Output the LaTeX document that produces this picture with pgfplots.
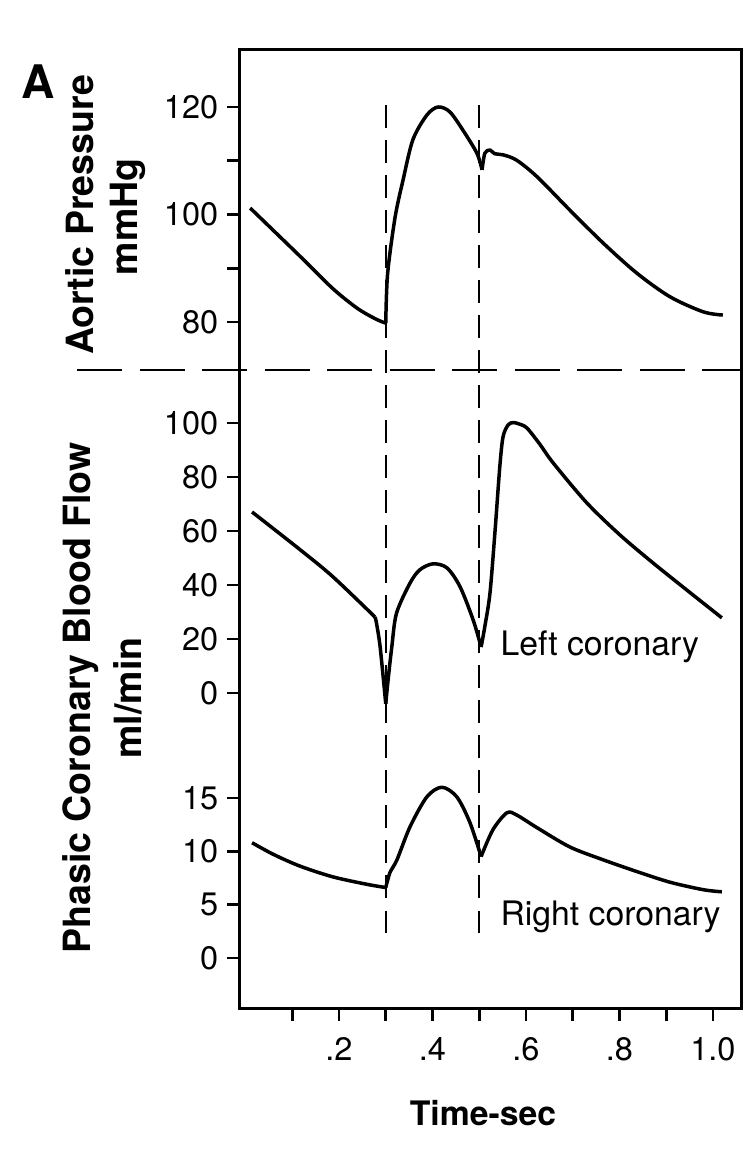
\documentclass[border=0pt]{standalone}
\usepackage{fontspec}
\setmainfont{TeX Gyre Heros}
\usepackage{pgfplots}
\pgfplotsset{compat=1.18}

% aortic pressure, mmHg
\pgfplotstableread{
x v
0.010 101.2
0.060 97.0
0.117 92.2
0.187 86.2
0.240 82.5
0.280 80.5
0.300 79.8
0.304 89.0
0.320 99.5
0.337 106.4
0.358 113.9
0.388 118.5
0.412 120.0
0.437 119.1
0.465 115.7
0.495 111.4
0.506 108.3
0.512 111.4
0.523 112.0
0.533 111.3
0.551 111.1
0.580 110.1
0.624 107.0
0.694 100.8
0.765 94.7
0.837 89.1
0.908 84.7
0.979 81.9
1.021 81.3
}\aortic

% left coronary flow, ml/min
\pgfplotstableread{
x v
0.014 67.0
0.117 53.0
0.187 43.0
0.277 28.1
0.280 26.0
0.288 17.0
0.300 -4.0
0.305 4.8
0.313 17.1
0.323 29.5
0.352 40.7
0.373 45.6
0.401 47.8
0.431 46.3
0.459 39.3
0.487 27.0
0.504 17.0
0.512 24.6
0.523 37.0
0.534 60.4
0.544 83.8
0.551 94.9
0.562 99.3
0.573 100.1
0.585 99.6
0.602 98.1
0.630 92.0
0.658 85.2
0.730 70.4
0.801 58.5
0.872 48.1
0.944 38.1
1.019 27.8
}\leftcor

% right coronary flow, ml/min
\pgfplotstableread{
x v
0.014 10.8
0.060 9.7
0.117 8.6
0.187 7.6
0.260 6.9
0.300 6.6
0.309 8.0
0.324 9.2
0.352 12.3
0.388 15.1
0.420 16.0
0.452 15.1
0.480 12.7
0.504 9.5
0.529 12.0
0.559 13.6
0.580 13.4
0.624 12.2
0.694 10.4
0.765 9.2
0.837 8.1
0.908 7.1
0.979 6.4
1.019 6.2
}\rightcor

\pgfplotsset{
  panel/.style={
    width=200.4pt, height=383.2pt, scale only axis,
    at={(0pt,0pt)}, anchor=south west,
    xmin=-0.0118, xmax=1.06,
    tick align=outside,
    major tick length=5.2pt, minor tick length=5.2pt,
    every tick/.style={black, line width=1.1pt},
    tick label style={font=\fontsize{13}{13}\selectfont},
    /pgf/number format/assume math mode=true,
  },
  overlay/.style={
    panel,
    axis x line=none, axis y line*=left,
    axis line style={-, line width=1.2pt},
    ytick pos=left,
  },
  curve/.style={black, line width=1.4pt, line join=round, smooth, tension=0.5},
}

\begin{document}
\begin{tikzpicture}
\path (-96pt,-56.8pt) rectangle (205.2pt,403.2pt);
% frame and time axis
\begin{axis}[panel,
    ymin=0, ymax=383.2,
    axis line style={line width=1.2pt},
    xtick={0.2,0.4,0.6,0.8,1.0},
    xticklabels={.2,.4,.6,.8,1.0},
    minor xtick={0.1,0.3,0.5,0.7,0.9},
    xtick pos=bottom,
    ytick=\empty,
    xticklabel style={yshift=-3pt},
    clip=false]
  \addplot[black, line width=1pt, dash pattern=on 9pt off 5pt] coordinates {(0.3,30) (0.3,365.2)};
  \addplot[black, line width=1pt, dash pattern=on 9pt off 5pt] coordinates {(0.5,30) (0.5,365.2)};
  \draw[black, line width=1pt, dash pattern=on 18pt off 7pt] (axis cs:-0.36,255.2) -- (axis cs:1.06,255.2);
\end{axis}

% aortic pressure
\begin{axis}[overlay,
    ymin=-47.6, ymax=130.6,
    ytick={80,100,120}, minor ytick={90,110}]
  \addplot[curve, restrict x to domain=0:0.3001] table[x=x, y=v] {\aortic};
  \addplot[curve, restrict x to domain=0.2999:0.5061] table[x=x, y=v] {\aortic};
  \addplot[curve, restrict x to domain=0.5059:1.1] table[x=x, y=v] {\aortic};
\end{axis}

% left coronary
\begin{axis}[overlay,
    ymin=-116.7, ymax=238.1,
    ytick={0,20,40,60,80,100}]
  \addplot[curve, restrict x to domain=0:0.2771] table[x=x, y=v] {\leftcor};
  \addplot[curve, restrict x to domain=0.2769:0.3001] table[x=x, y=v] {\leftcor};
  \addplot[curve, restrict x to domain=0.2999:0.5041] table[x=x, y=v] {\leftcor};
  \addplot[curve, restrict x to domain=0.5039:1.1] table[x=x, y=v] {\leftcor};
\end{axis}

% right coronary
\begin{axis}[overlay,
    ymin=-4.69, ymax=85.1,
    ytick={0,5,10,15}]
  \addplot[curve, restrict x to domain=0:0.3001] table[x=x, y=v] {\rightcor};
  \addplot[curve, restrict x to domain=0.2999:0.5041] table[x=x, y=v] {\rightcor};
  \addplot[curve, restrict x to domain=0.5039:1.1] table[x=x, y=v] {\rightcor};
\end{axis}

\node[font=\bfseries\fontsize{18.5}{18.5}\selectfont] at (-80.8pt,370.4pt) {A};
\node[rotate=90, font=\bfseries\fontsize{15}{15}\selectfont] at (-64pt,317.2pt) {Aortic Pressure};
\node[rotate=90, font=\bfseries\fontsize{15}{15}\selectfont] at (-44.8pt,316.4pt) {mmHg};
\node[rotate=90, font=\bfseries\fontsize{15}{15}\selectfont] at (-63.6pt,124pt) {Phasic Coronary Blood Flow};
\node[rotate=90, font=\bfseries\fontsize{15}{15}\selectfont] at (-44.8pt,124pt) {ml/min};
\node[font=\bfseries\fontsize{13.5}{13.5}\selectfont] at (97.2pt,-42pt) {Time-sec};
\node[anchor=west, inner sep=0pt, font=\fontsize{13.5}{13.5}\selectfont] at (104pt,144.4pt) {Left coronary};
\node[anchor=west, inner sep=0pt, font=\fontsize{13.5}{13.5}\selectfont] at (104pt,36.4pt) {Right coronary};
\end{tikzpicture}
\end{document}
